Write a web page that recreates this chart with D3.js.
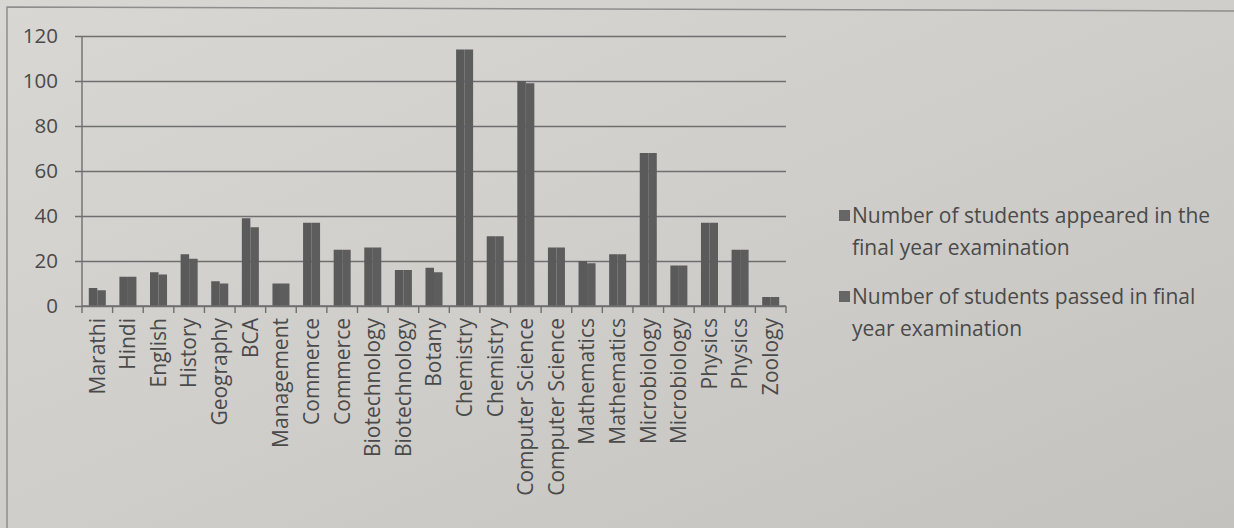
<!DOCTYPE html>
<html>
<head>
<meta charset="utf-8">
<script src="https://cdn.jsdelivr.net/npm/d3@7"></script>
<style>
  html, body { margin: 0; padding: 0; background: #d0cfcb; }
  svg { display: block; }
  text { font-family: "Open Sans", "Noto Sans", sans-serif; fill: #4a4a4a; }
</style>
</head>
<body>
<svg id="chart" width="1234" height="528"></svg>
<script>
const categories = ["Marathi","Hindi","English","History","Geography","BCA","Management","Commerce","Commerce","Biotechnology","Biotechnology","Botany","Chemistry","Chemistry","Computer Science","Computer Science","Mathematics","Mathematics","Microbiology","Microbiology","Physics","Physics","Zoology"];
const appeared = [8,13,15,23,11,39,10,37,25,26,16,17,114,31,100,26,20,23,68,18,37,25,4];
const passed   = [7,13,14,21,10,35,10,37,25,26,16,15,114,31,99,26,19,23,68,18,37,25,4];
const seriesNames = ["Number of students appeared in the final year examination","Number of students passed in final year examination"];
const legendLines = [["Number of students appeared in the","final year examination"],["Number of students passed in final","year examination"]];
const yTicks = [0,20,40,60,80,100,120];

(function(){
const svg = d3.select("#chart");
const W = 1234, H = 528;

const defs = svg.append("defs");
const grad = defs.append("linearGradient").attr("id","bg").attr("x1","0").attr("y1","0").attr("x2","1").attr("y2","1");
grad.append("stop").attr("offset","0").attr("stop-color","#d8d7d3");
grad.append("stop").attr("offset","0.5").attr("stop-color","#d0cecb");
grad.append("stop").attr("offset","1").attr("stop-color","#c4c2bf");
svg.append("rect").attr("width",W).attr("height",H).attr("fill","url(#bg)");

svg.append("path").attr("d","M7,528 L7,7 L1234,11").attr("fill","none").attr("stroke","#8e8e8e").attr("stroke-width",1.5);

const pL = 82, pR = 786, pT = 36, pB = 306;
const x = d3.scaleBand().domain(d3.range(categories.length)).range([pL,pR]).paddingInner(0.444).paddingOuter(0.222);
const xs = d3.scaleBand().domain([0,1]).range([0,x.bandwidth()]);
const xTick = d3.scaleBand().domain(d3.range(categories.length)).range([pL,pR]);
const y = d3.scaleLinear().domain([0,120]).range([pB,pT]);

const yAxis = d3.axisLeft(y).tickValues(yTicks).tickSize(0).tickPadding(24).tickFormat(d3.format("d"));
const gy = svg.append("g").attr("transform",`translate(${pL},0)`).call(yAxis);
gy.select(".domain").remove();
gy.selectAll(".tick line").attr("x1",-7).attr("x2",pR-pL).attr("stroke","#6f6f6f").attr("stroke-width",1.4);
gy.selectAll(".tick text").attr("font-size",20.5).attr("fill","#4a4a4a");

const data = categories.map((c,i)=>({i, vals:[appeared[i],passed[i]]}));
const g = svg.append("g");
g.selectAll("g.cat").data(data).join("g").attr("class","cat")
  .attr("transform",d=>`translate(${x(d.i)},0)`)
  .selectAll("rect").data(d=>d.vals.map((v,k)=>({k,v}))).join("rect")
  .attr("x",d=>xs(d.k)).attr("width",xs.bandwidth())
  .attr("y",d=>y(d.v)).attr("height",d=>y(0)-y(d.v))
  .attr("fill",d=>d.k===0?"#5a5a5a":"#5d5d5d");

svg.append("line").attr("x1",pL).attr("x2",pL).attr("y1",pT).attr("y2",pB).attr("stroke","#6f6f6f").attr("stroke-width",1.4);

const xb = svg.append("g").attr("transform",`translate(0,${pB})`);
xb.append("line").attr("x1",pL).attr("x2",pR).attr("stroke","#6f6f6f").attr("stroke-width",1.4);
xb.selectAll("line.tk").data(d3.range(categories.length+1)).join("line").attr("class","tk")
  .attr("x1",d=>pL + d*xTick.step()).attr("x2",d=>pL + d*xTick.step())
  .attr("y1",0).attr("y2",7).attr("stroke","#6f6f6f").attr("stroke-width",1.4);
const xAxis = d3.axisBottom(xTick).tickSize(0).tickFormat(i=>categories[i]);
const gx = svg.append("g").attr("transform",`translate(0,${pB})`).call(xAxis);
gx.select(".domain").remove();
gx.selectAll(".tick text")
  .attr("font-size",21).attr("fill","#4a4a4a")
  .attr("text-anchor","end").attr("transform","rotate(-90)")
  .attr("x",-12).attr("y",0).attr("dy","0.35em");

const leg = svg.append("g");
const legY = [223, 304];
seriesNames.forEach((name,k)=>{
  const item = leg.append("g");
  item.append("rect").attr("x",839).attr("y",legY[k]-13).attr("width",11).attr("height",11).attr("fill","#666");
  const t = item.append("text").attr("x",852).attr("y",legY[k]).attr("font-size",21).attr("fill","#4a4a4a");
  legendLines[k].forEach((ln,j)=>{
    t.append("tspan").attr("x",852).attr("dy", j===0?0:32).text(ln);
  });
});
})();
</script>
</body>
</html>
